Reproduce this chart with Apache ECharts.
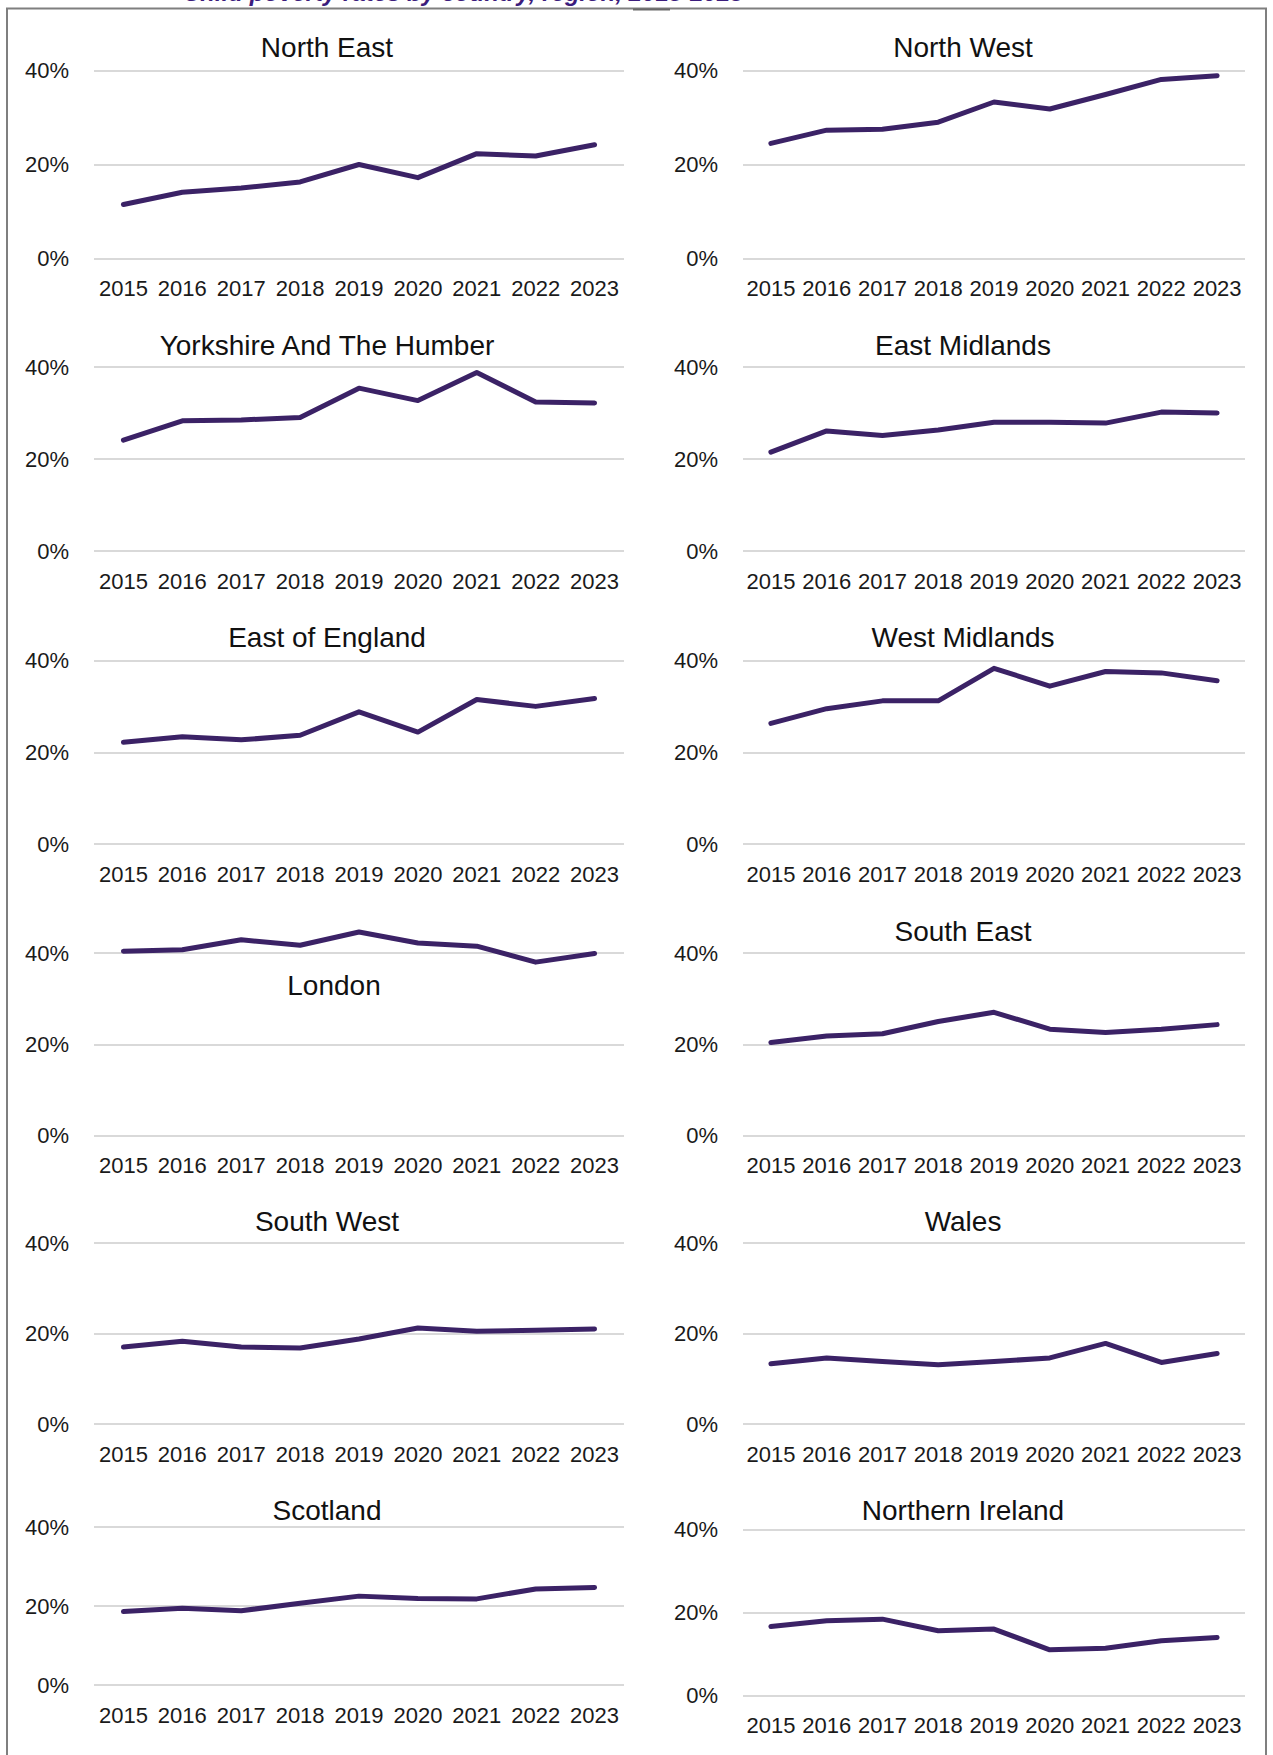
<!DOCTYPE html>
<html>
<head>
<meta charset="utf-8">
<title>Child poverty rates by country, region, 2015-2023</title>
<script src="https://cdn.jsdelivr.net/npm/echarts@6/dist/echarts.min.js"></script>
<style>
  html, body { margin: 0; padding: 0; background: #ffffff; }
  #chart { width: 1273px; height: 1755px; }
</style>
</head>
<body>
<div id="chart"></div>
<script>
// Years along each small-multiple x axis
const years = ['2015', '2016', '2017', '2018', '2019', '2020', '2021', '2022', '2023'];

// Rates (%) per country / region
const northEast      = [11.5, 14.1, 15.0, 16.3, 20.0, 17.2, 22.3, 21.8, 24.2];
const northWest      = [24.5, 27.3, 27.5, 29.0, 33.3, 31.8, 34.9, 38.1, 38.9];
const yorkshire      = [24.1, 28.3, 28.5, 29.0, 35.4, 32.7, 38.8, 32.4, 32.2];
const eastMidlands   = [21.5, 26.1, 25.1, 26.3, 28.0, 28.0, 27.8, 30.2, 30.0];
const eastOfEngland  = [22.2, 23.4, 22.7, 23.7, 28.8, 24.4, 31.5, 30.0, 31.7];
const westMidlands   = [26.3, 29.5, 31.2, 31.2, 38.3, 34.4, 37.6, 37.3, 35.6];
const london         = [40.4, 40.7, 42.9, 41.7, 44.6, 42.2, 41.5, 38.0, 39.9];
const southEast      = [20.4, 21.8, 22.3, 25.0, 27.0, 23.3, 22.6, 23.3, 24.3];
const southWest      = [17.0, 18.3, 17.0, 16.8, 18.8, 21.2, 20.5, 20.7, 21.0];
const wales          = [13.3, 14.6, 13.8, 13.1, 13.8, 14.6, 17.8, 13.6, 15.6];
const scotland       = [18.6, 19.4, 18.8, 20.7, 22.5, 21.9, 21.8, 24.3, 24.7];
const northernIreland = [16.6, 18.0, 18.4, 15.6, 16.0, 11.0, 11.4, 13.2, 14.0];

// Panel names in reading order
const panelNames = [
  'North East', 'North West',
  'Yorkshire And The Humber', 'East Midlands',
  'East of England', 'West Midlands',
  'London', 'South East',
  'South West', 'Wales',
  'Scotland', 'Northern Ireland'
];
const panelData = [
  northEast, northWest, yorkshire, eastMidlands, eastOfEngland, westMidlands,
  london, southEast, southWest, wales, scotland, northernIreland
];

// Value axis: 0% to 40% with a tick every 20%
const yMin = 0, yMax = 40, yStep = 20;
const pctLabel = v => v + '%';

// Layout of the small multiples (pixels)
const colLeft  = { left: 94,  width: 530, titleX: 327 };
const colRight = { left: 743, width: 502, titleX: 963 };
const panelLayout = [
  { col: colLeft,  top: 70.5,   height: 188,   titleY: 47 },
  { col: colRight, top: 70.5,   height: 188,   titleY: 47 },
  { col: colLeft,  top: 367,    height: 184,   titleY: 345 },
  { col: colRight, top: 367,    height: 184,   titleY: 345 },
  { col: colLeft,  top: 660.5,  height: 183.5, titleY: 637 },
  { col: colRight, top: 660.5,  height: 183.5, titleY: 637 },
  { col: colLeft,  top: 953,    height: 182.5, titleY: 985, titleX: 334 },
  { col: colRight, top: 953,    height: 182.5, titleY: 931.5 },
  { col: colLeft,  top: 1243,   height: 181,   titleY: 1221.5 },
  { col: colRight, top: 1243,   height: 181,   titleY: 1221.5 },
  { col: colLeft,  top: 1527,   height: 158,   titleY: 1510 },
  { col: colRight, top: 1529.5, height: 166,   titleY: 1510 }
];

const FONT = '"Liberation Sans", Arial, sans-serif';
const LINE_COLOR = '#3b2266';
const GRID_COLOR = '#d9d9d9';
const TEXT_COLOR = '#1a1a1a';

const grids = [], xAxes = [], yAxes = [], series = [], graphics = [];

panelNames.forEach((name, i) => {
  const lay = panelLayout[i];
  grids.push({
    left: lay.col.left, top: lay.top, width: lay.col.width, height: lay.height,
    containLabel: false
  });
  xAxes.push({
    type: 'category', gridIndex: i, data: years, boundaryGap: true,
    axisLine: { show: false }, axisTick: { show: false },
    axisLabel: { color: TEXT_COLOR, fontFamily: FONT, fontSize: 22, margin: 19, interval: 0 }
  });
  yAxes.push({
    type: 'value', gridIndex: i, min: yMin, max: yMax, interval: yStep,
    axisLine: { show: false }, axisTick: { show: false },
    axisLabel: { color: TEXT_COLOR, fontFamily: FONT, fontSize: 22, margin: 25, formatter: pctLabel },
    splitLine: { show: true, lineStyle: { color: GRID_COLOR, width: 2 } }
  });
  // Lines may rise above the 40% gridline (London), so no clipping
  series.push({
    type: 'line', name: name, xAxisIndex: i, yAxisIndex: i,
    data: panelData[i], symbol: 'none', silent: true, clip: false,
    lineStyle: { color: LINE_COLOR, width: 5, cap: 'round', join: 'round' }
  });
  graphics.push({
    type: 'text',
    x: lay.titleX !== undefined ? lay.titleX : lay.col.titleX,
    y: lay.titleY,
    style: {
      text: name, font: '28px ' + FONT, fill: '#111111',
      align: 'center', verticalAlign: 'middle',
      textAlign: 'center', textVerticalAlign: 'middle'
    }
  });
});

// Page heading (sits mostly above the frame) and the surrounding frame
graphics.push({
  type: 'text', x: 183, y: 4,
  style: {
    text: 'Child poverty rates by country, region, 2015-2023',
    font: 'italic bold 24px ' + FONT, fill: '#3b1c7c',
    align: 'left', verticalAlign: 'bottom',
    textAlign: 'left', textVerticalAlign: 'bottom'
  }
});
graphics.push({
  type: 'polyline',
  shape: { points: [[7, 1755], [7, 8.5], [1266, 8.5], [1266, 1755]] },
  style: { stroke: '#7f7f7f', lineWidth: 2, fill: null }
});
graphics.push({
  type: 'line',
  shape: { x1: 633, y1: 9.5, x2: 670, y2: 9.5 },
  style: { stroke: '#6a6a6a', lineWidth: 2 }
});

const chart = echarts.init(document.getElementById('chart'), null, { renderer: 'svg' });
chart.setOption({
  animation: false,
  backgroundColor: '#ffffff',
  grid: grids,
  xAxis: xAxes,
  yAxis: yAxes,
  series: series,
  graphic: { elements: graphics }
});
</script>
</body>
</html>
